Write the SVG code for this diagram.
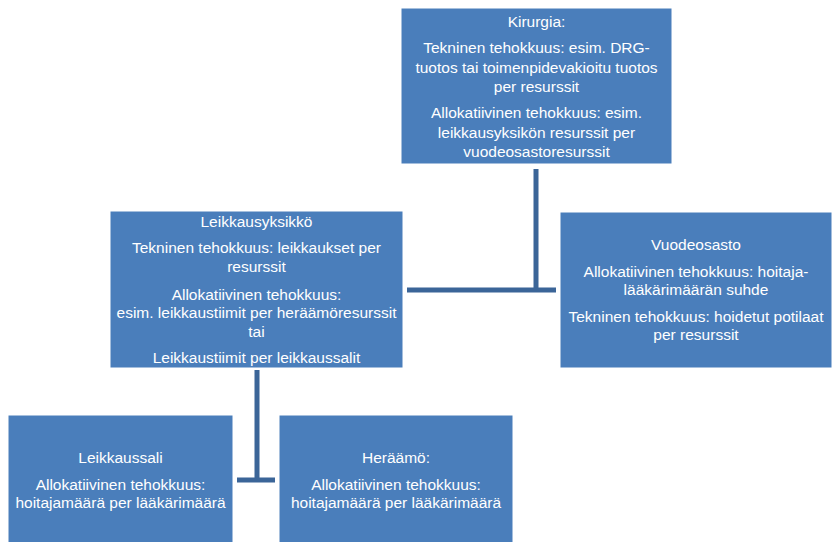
<svg xmlns="http://www.w3.org/2000/svg" width="836" height="542" viewBox="0 0 836 542">
<style>
.box{fill:#4A7EBB;stroke:#ffffff;stroke-width:1}
.t{font-family:"Liberation Sans",Arial,sans-serif;font-size:15.5px;fill:#ffffff;text-anchor:middle}
.c{stroke:#3B6598;stroke-width:5;fill:none}
</style>
<rect width="836" height="542" fill="#ffffff"/>
<g id="connectors">
<path class="c" d="M536 169 V290 M407 290 H556"/>
<path class="c" d="M257 370 V480 M237 480 H275"/>
</g>
<g id="kirurgia">
<rect class="box" x="401" y="8" width="271" height="156"/>
<text class="t" x="536.5" y="27">Kirurgia:</text>
<text class="t" x="536.5" y="53">Tekninen tehokkuus: esim. DRG-</text>
<text class="t" x="536.5" y="73">tuotos tai toimenpidevakioitu tuotos</text>
<text class="t" x="536.5" y="92">per resurssit</text>
<text class="t" x="536.5" y="118">Allokatiivinen tehokkuus: esim.</text>
<text class="t" x="536.5" y="138">leikkausyksikön resurssit per</text>
<text class="t" x="536.5" y="157">vuodeosastoresurssit</text>
</g>
<g id="leikkausyksikko">
<rect class="box" x="110" y="211" width="293" height="157"/>
<text class="t" x="256.5" y="227">Leikkausyksikkö</text>
<text class="t" x="256.5" y="253">Tekninen tehokkuus: leikkaukset per</text>
<text class="t" x="256.5" y="272">resurssit</text>
<text class="t" x="256.5" y="300">Allokatiivinen tehokkuus:</text>
<text class="t" x="256.5" y="318">esim. leikkaustiimit per heräämöresurssit</text>
<text class="t" x="256.5" y="337">tai</text>
<text class="t" x="256.5" y="363">Leikkaustiimit per leikkaussalit</text>
</g>
<g id="vuodeosasto">
<rect class="box" x="560" y="212" width="272" height="156"/>
<text class="t" x="696" y="250">Vuodeosasto</text>
<text class="t" x="696" y="277">Allokatiivinen tehokkuus: hoitaja-</text>
<text class="t" x="696" y="295">lääkärimäärän suhde</text>
<text class="t" x="696" y="322">Tekninen tehokkuus: hoidetut potilaat</text>
<text class="t" x="696" y="340">per resurssit</text>
</g>
<g id="leikkaussali">
<rect class="box" x="8" y="415" width="225" height="135"/>
<text class="t" x="120.5" y="463">Leikkaussali</text>
<text class="t" x="120.5" y="490">Allokatiivinen tehokkuus:</text>
<text class="t" x="120.5" y="508">hoitajamäärä per lääkärimäärä</text>
</g>
<g id="heraamo">
<rect class="box" x="279" y="415" width="234" height="135"/>
<text class="t" x="396" y="463">Heräämö:</text>
<text class="t" x="396" y="490">Allokatiivinen tehokkuus:</text>
<text class="t" x="396" y="508">hoitajamäärä per lääkärimäärä</text>
</g>
</svg>
